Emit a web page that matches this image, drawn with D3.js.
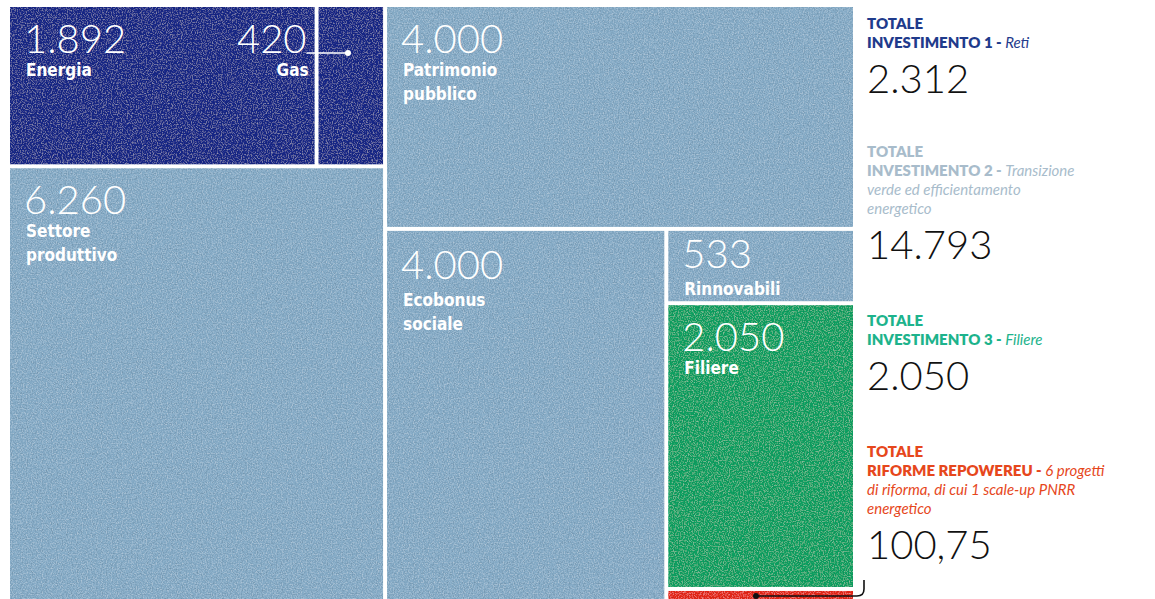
<!DOCTYPE html>
<html>
<head>
<meta charset="utf-8">
<script src="https://cdn.jsdelivr.net/npm/d3@7"></script>
<style>
  body { margin: 0; background: #fff; }
  svg { display: block; }
</style>
</head>
<body>
<svg id="chart" width="1155" height="599"></svg>
<script>
// voci del treemap (milioni di euro)
var names = ["Energia", "Gas", "Settore produttivo", "Patrimonio pubblico", "Ecobonus sociale", "Rinnovabili", "Filiere", "Riforme"];
var values = [1892, 420, 6260, 4000, 4000, 533, 2050, 100.75];
var valueLabels = ["1.892", "420", "6.260", "4.000", "4.000", "533", "2.050", ""];
var groupOf = [1, 1, 2, 2, 2, 2, 3, 4];

// riquadro totali a destra
var totTitles = ["INVESTIMENTO 1 - ", "INVESTIMENTO 2 - ", "INVESTIMENTO 3 - ", "RIFORME REPOWEREU - "];
var totNotes = [["Reti"], ["Transizione", "verde ed efficientamento", "energetico"], ["Filiere"], ["6 progetti", "di riforma, di cui 1 scale-up PNRR", "energetico"]];
var totValues = ["2.312", "14.793", "2.050", "100,75"];

var fill = { 1: "#1a2a88", 2: "#86acc7", 3: "#15a264", 4: "#e6291b" };
var textCol = { 1: "#1f3b8c", 2: "#a8bccb", 3: "#1db38c", 4: "#e6471c" };

var svg = d3.select("#chart");

// grana da carta stampata (puntini chiari e scuri, leggeri)
var defs = svg.append("defs");
var f = defs.append("filter").attr("id", "grain").attr("x", 0).attr("y", 0).attr("width", 1).attr("height", 1);
f.append("feTurbulence").attr("type", "fractalNoise").attr("baseFrequency", 0.8).attr("numOctaves", 2).attr("seed", 3).attr("result", "n");
f.append("feColorMatrix").attr("in", "n").attr("type", "matrix")
  .attr("values", "0 0 0 0 1  0 0 0 0 1  0 0 0 0 1  0.7 0 0 0 -0.34").attr("result", "lt");
f.append("feColorMatrix").attr("in", "n").attr("type", "matrix")
  .attr("values", "0 0 0 0 0  0 0 0 0 0  0 0 0 0 0  -0.8 0 0 0 0.4").attr("result", "dk");
f.append("feComposite").attr("in", "lt").attr("in2", "SourceGraphic").attr("operator", "in").attr("result", "lt2");
f.append("feComposite").attr("in", "dk").attr("in2", "SourceGraphic").attr("operator", "in").attr("result", "dk2");
f.append("feMerge").selectAll("feMergeNode").data(["SourceGraphic", "lt2", "dk2"]).enter().append("feMergeNode").attr("in", function (d) { return d; });

// struttura: colonne -> righe -> ...
function leaf(i) { return { i: i, value: values[i] }; }
var tree = {
  children: [
    { children: [ { children: [leaf(0), leaf(1)] }, leaf(2) ] },
    { children: [ leaf(3), { children: [ leaf(4), { children: [leaf(5), leaf(6), leaf(7)] } ] } ] }
  ]
};
var root = d3.hierarchy(tree).sum(function (d) { return d.value || 0; });
d3.treemap().tile(d3.treemapSliceDice).size([843, 594]).paddingInner(4).round(false)(root);

var g = svg.append("g").attr("transform", "translate(10,7)");
var cells = g.selectAll("g.cell").data(root.leaves()).enter().append("g").attr("class", "cell")
  .attr("transform", function (d) { return "translate(" + d.x0 + "," + d.y0 + ")"; });

cells.append("rect")
  .attr("width", function (d) { return d.x1 - d.x0; })
  .attr("height", function (d) { return d.y1 - d.y0; })
  .attr("fill", function (d) { return fill[groupOf[d.data.i]]; })
  .attr("filter", "url(#grain)");

// numeri
cells.append("text")
  .attr("x", function (d) { return d.data.i === 1 ? -12 : 14; })
  .attr("y", function (d) { return d.data.i === 5 ? 37 : (d.data.i === 4 ? 48 : 46); })
  .attr("text-anchor", function (d) { return d.data.i === 1 ? "end" : "start"; })
  .attr("font-family", "Lato, 'Open Sans', sans-serif").attr("font-weight", 300)
  .attr("font-size", 40).attr("fill", "#fff")
  .text(function (d) { return valueLabels[d.data.i]; });

// etichette
cells.each(function (d) {
  if (d.data.i === 7) return;
  var words = names[d.data.i].split(" ");
  var t = d3.select(this).append("text")
    .attr("font-family", "'DejaVu Sans Condensed', 'Liberation Sans Narrow', sans-serif")
    .attr("font-weight", 700).attr("font-size", 17).attr("fill", "#fff")
    .attr("text-anchor", d.data.i === 1 ? "end" : "start");
  words.forEach(function (w, k) {
    t.append("tspan").attr("x", d.data.i === 1 ? -10 : 16)
      .attr("y", (d.data.i === 5 ? 64 : d.data.i === 4 ? 75 : 69) + k * 24).text(w);
  });
});

// connettore Gas
var gas = root.leaves()[1];
svg.append("line").attr("x1", 10 + gas.x0 - 12).attr("x2", 348).attr("y1", 53).attr("y2", 53)
  .attr("stroke", "#fff").attr("stroke-width", 1.5);
svg.append("circle").attr("cx", 348).attr("cy", 53).attr("r", 3).attr("fill", "#fff");

// connettore riforme
var red = root.leaves()[7];
var ry = 7 + red.y0 + 5;
svg.append("path").attr("d", "M756," + ry + "H857Q864," + ry + " 864," + (ry - 7) + "V580")
  .attr("fill", "none").attr("stroke", "#111").attr("stroke-width", 1.6);
svg.append("circle").attr("cx", 756).attr("cy", ry).attr("r", 3).attr("fill", "#111");

// totali
var totY = [29, 157, 326, 457];
var side = svg.append("g").attr("transform", "translate(867,0)");
totTitles.forEach(function (title, i) {
  var c = textCol[i + 1];
  var y = totY[i];
  var gt = side.append("g").attr("font-family", "Lato, 'Open Sans', sans-serif").attr("font-size", 15).attr("fill", c);
  gt.append("text").attr("y", y).attr("font-weight", 800).text("TOTALE");
  var l1 = gt.append("text").attr("y", y + 19);
  l1.append("tspan").attr("font-weight", 800).text(title);
  l1.append("tspan").attr("font-style", "italic").text(totNotes[i][0]);
  for (var k = 1; k < totNotes[i].length; k++) {
    gt.append("text").attr("y", y + 19 + k * 19).attr("font-style", "italic").text(totNotes[i][k]);
  }
  var ny = y + 19 + (totNotes[i].length - 1) * 19 + 45;
  side.append("text").attr("y", ny).attr("font-family", "Lato, 'Open Sans', sans-serif")
    .attr("font-weight", 300).attr("font-size", 40).attr("fill", "#111").text(totValues[i]);
});
</script>
</body>
</html>
